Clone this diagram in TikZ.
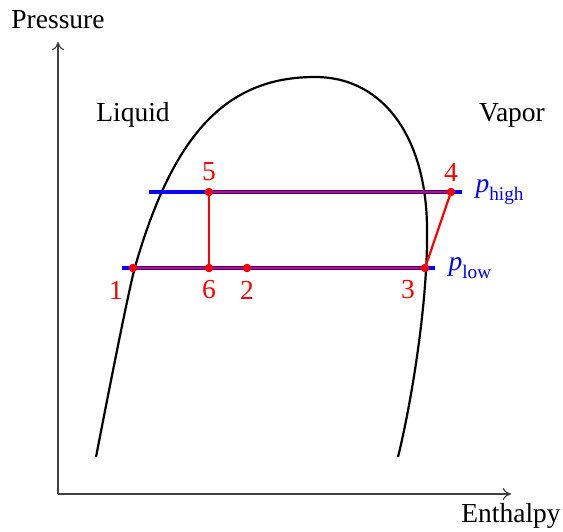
\documentclass[tikz,border=0pt]{standalone}
\usepackage{amsmath}
\usepackage{fontspec}
\setmainfont{Liberation Serif}
\usetikzlibrary{arrows.meta}
\begin{document}
\begin{tikzpicture}[x=0.3636pt,y=-0.3636pt,
  axis/.style={draw=black!75,line width=0.4pt,-{To[length=3pt,width=4.5pt]}},
  dome/.style={draw=black,line width=0.8pt},
  isobar/.style={draw=blue,line width=1.7pt},
  cycle/.style={draw=red,line width=0.8pt},
  statept/.style={circle,fill=red,inner sep=0pt,minimum size=3pt},
  statelbl/.style={text=red,font=\fontsize{10}{12}\selectfont},
  plain/.style={font=\fontsize{10}{12}\selectfont},
  plbl/.style={text=blue,anchor=west,inner sep=0pt,font=\fontsize{10}{12}\selectfont}]
\useasboundingbox (0,0) rectangle (563,531);
% axes
\coordinate (O) at (58,494);
\coordinate (Ytop) at (58,42);
\coordinate (Xend) at (511,494);
\draw[axis] (O) -- (Ytop);
\draw[axis] (O) -- (Xend);
\node[plain] (ylab) at (58,20) {Pressure};
\node[plain] (xlab) at (511,516) {Enthalpy};
\node[plain] (liq) at (133,115) {Liquid};
\node[plain] (vap) at (512,115) {Vapor};
% saturation dome
\draw[dome] (96,457) .. controls (102,426) and (128,292) .. (135,267)
  .. controls (172.8,135.6) and (225,77) .. (315,77)
  .. controls (385,77) and (427,140) .. (427,230)
  .. controls (428,300) and (412,400) .. (398,457);
% isobars
\coordinate (lowA) at (122,268);
\coordinate (lowB) at (435,268);
\coordinate (highA) at (149,192);
\coordinate (highB) at (462,192);
\draw[isobar] (lowA) -- (lowB);
\draw[isobar] (highA) -- (highB);
% state points
\node[statept] (s1) at (133,268) {};
\node[statept] (s2) at (247,268) {};
\node[statept] (s3) at (425,268) {};
\node[statept] (s4) at (451,192) {};
\node[statept] (s5) at (209,192) {};
\node[statept] (s6) at (209,268) {};
% cycle lines
\draw[cycle] (s1.center) -- (s3.center);
\draw[cycle] (s5.center) -- (s4.center);
\draw[cycle] (s5.center) -- (s6.center);
\draw[cycle] (s3.center) -- (s4.center);
\foreach \n in {s1,s2,s3,s4,s5,s6} \node[statept] at (\n) {};
% labels
\node[statelbl] (l1) at (116,290) {1};
\node[statelbl] (l6) at (209,290) {6};
\node[statelbl] (l2) at (247,290) {2};
\node[statelbl] (l3) at (408,290) {3};
\node[statelbl] (l5) at (209,172) {5};
\node[statelbl] (l4) at (451,172) {4};
\node[plbl] (ph) at (475,192) {$\textit{p}_{\text{high}}$};
\node[plbl] (pl) at (448,268) {$\textit{p}_{\text{low}}$};
\end{tikzpicture}
\end{document}
